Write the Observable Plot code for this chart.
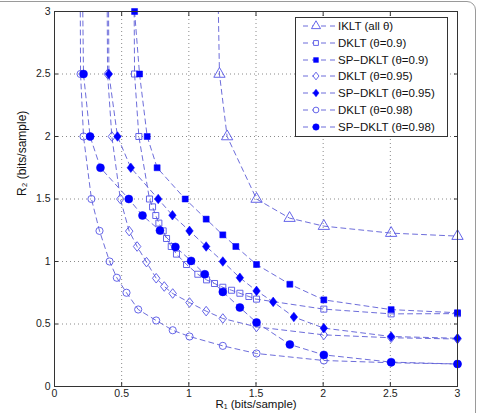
<!DOCTYPE html>
<html><head><meta charset="utf-8">
<script src="https://cdn.jsdelivr.net/npm/d3@7"></script>
<script src="https://cdn.jsdelivr.net/npm/@observablehq/plot@0.6"></script>
<style>
html,body{margin:0;padding:0;background:#fff;}
#wrap{position:relative;width:480px;height:413px;overflow:hidden;font-family:"Liberation Sans",Arial,sans-serif;}
#frame{position:absolute;left:-12px;top:1px;width:488px;height:440px;border:1px solid #9a9a9a;border-radius:9px;box-sizing:border-box;pointer-events:none}
#legend{position:absolute;left:295px;top:17px;width:153px;height:120px;box-sizing:border-box;border:1px solid #333;background:#fff}
#legend .row{position:absolute;left:0;height:16px;width:150px}
#legend svg{position:absolute;left:0;top:0}
#legend span{position:absolute;left:42px;top:0;line-height:16px;font-size:11.5px;color:#111;white-space:nowrap}
</style></head><body>
<div id="wrap"><div id="chart"></div><div id="frame"></div><div id="legend"></div></div>
<script>
// ---- data (R1, R2 in bits/sample), first point of most curves lies above the plotted range ----
const ikltX   = [1.21, 1.228, 1.285, 1.504, 1.75, 2.005, 2.506, 3.0];
const ikltY   = [3.6, 2.5, 2.0, 1.5, 1.347, 1.283, 1.227, 1.203];

const dklt90X = [0.59, 0.596, 0.628, 0.707, 0.73, 0.754, 0.777, 0.809, 0.834, 0.869, 0.908, 0.983, 1.067, 1.132, 1.191, 1.253, 1.318, 1.38, 1.447, 1.504, 2.005, 2.506, 3.0];
const dklt90Y = [3.5, 2.5, 2.0, 1.5, 1.437, 1.368, 1.307, 1.245, 1.184, 1.12, 1.059, 0.976, 0.898, 0.853, 0.824, 0.794, 0.77, 0.746, 0.72, 0.699, 0.619, 0.581, 0.583];

const sp90X   = [0.596, 0.633, 0.69, 0.764, 0.973, 1.129, 1.253, 1.35, 1.504, 1.752, 2.005, 2.506, 3.0];
const sp90Y   = [3.0, 2.5, 2.0, 1.75, 1.5, 1.339, 1.213, 1.12, 0.976, 0.818, 0.693, 0.615, 0.59];

const dklt95X = [0.39, 0.395, 0.427, 0.49, 0.556, 0.615, 0.685, 0.757, 0.817, 0.88, 1.005, 1.129, 1.253, 1.504, 2.005, 2.506, 3.0];
const dklt95Y = [3.5, 2.5, 2.0, 1.5, 1.243, 1.12, 0.995, 0.866, 0.80, 0.744, 0.672, 0.603, 0.544, 0.477, 0.413, 0.39, 0.38];

const sp95X   = [0.40, 0.405, 0.469, 0.568, 0.772, 0.878, 1.005, 1.129, 1.253, 1.38, 1.504, 1.628, 1.782, 2.005, 2.506, 3.0];
const sp95Y   = [3.5, 2.5, 2.0, 1.75, 1.5, 1.37, 1.245, 1.12, 1.0, 0.87, 0.765, 0.677, 0.556, 0.467, 0.40, 0.386];

const dklt98X = [0.19, 0.194, 0.216, 0.275, 0.335, 0.41, 0.464, 0.536, 0.623, 0.757, 0.88, 1.005, 1.253, 1.504, 2.005, 2.506, 3.0];
const dklt98Y = [3.5, 2.5, 2.0, 1.5, 1.245, 1.0, 0.87, 0.75, 0.616, 0.528, 0.45, 0.40, 0.325, 0.264, 0.208, 0.19, 0.18];

const sp98X   = [0.205, 0.216, 0.265, 0.342, 0.553, 0.655, 0.785, 0.90, 1.017, 1.119, 1.253, 1.38, 1.504, 1.752, 2.005, 2.506, 3.0];
const sp98Y   = [3.5, 2.5, 2.0, 1.75, 1.5, 1.368, 1.248, 1.117, 1.005, 0.898, 0.757, 0.632, 0.512, 0.336, 0.253, 0.195, 0.18];

const seriesNames = ["IKLT (all θ)", "DKLT (θ=0.9)", "SP−DKLT (θ=0.9)", "DKLT (θ=0.95)", "SP−DKLT (θ=0.95)", "DKLT (θ=0.98)", "SP−DKLT (θ=0.98)"];
const xTicks = [0, 0.5, 1, 1.5, 2, 2.5, 3];
const yTicks = [0, 0.5, 1, 1.5, 2, 2.5, 3];
const gridTicks = [0.5, 1, 1.5, 2, 2.5];
const xLabel = "R₁ (bits/sample)";
const yLabel = "R₂ (bits/sample)";

// ---- styles ----
const lineColor = "#5c5cd6";
const openColor = "#5555e6";
const fillColor = "#0000ff";
const mDiamond = {draw(ctx, size){const h=Math.sqrt(size)*0.75, w=h*0.78; ctx.moveTo(0,-h); ctx.lineTo(w,0); ctx.lineTo(0,h); ctx.lineTo(-w,0); ctx.closePath();}};
const styles = [
  {symbol:"triangle", filled:false, r:4.2},
  {symbol:"square", filled:false, r:3.4},
  {symbol:"square", filled:true, r:3.4},
  {symbol:mDiamond, filled:false, r:3.6},
  {symbol:mDiamond, filled:true, r:3.6},
  {symbol:"circle", filled:false, r:3.6},
  {symbol:"circle", filled:true, r:4.0}
];
const xs = [ikltX, dklt90X, sp90X, dklt95X, sp95X, dklt98X, sp98X];
const ys = [ikltY, dklt90Y, sp90Y, dklt95Y, sp95Y, dklt98Y, sp98Y];

const series = seriesNames.map((name, k) => ({name, ...styles[k],
  rows: xs[k].map((x, i) => ({series: name, x, y: ys[k][i]}))}));
const allRows = series.flatMap(s => s.rows);
const fmt = d => String(d);

const marks = [
  Plot.gridX(gridTicks, {stroke:"#8a8a8a", strokeOpacity:1, strokeDasharray:"1,3"}),
  Plot.gridY(gridTicks, {stroke:"#8a8a8a", strokeOpacity:1, strokeDasharray:"1,3"}),
  Plot.line(allRows, {x:"x", y:"y", z:"series", stroke:lineColor, strokeWidth:0.9, strokeDasharray:"5,4", clip:true})
];
for (const s of series) {
  marks.push(Plot.dot(s.rows, {x:"x", y:"y", filter: d => d.y <= 3, symbol: s.symbol, r: s.r,
    stroke: s.filled ? fillColor : openColor, fill: s.filled ? fillColor : "none", strokeWidth: s.filled ? 0.5 : 0.9}));
}
marks.push(
  Plot.frame({stroke:"#333", strokeWidth:1}),
  Plot.axisX(xTicks, {anchor:"bottom", tickSize:-4, tickPadding:7, tickFormat:fmt, stroke:"#333", fontSize:10.5}),
  Plot.axisX(xTicks, {anchor:"top", tickSize:-4, tickFormat:() => "", stroke:"#333"}),
  Plot.axisY(yTicks, {anchor:"left", tickSize:-4, tickPadding:8, tickFormat:fmt, stroke:"#333", fontSize:10.5}),
  Plot.axisY(yTicks, {anchor:"right", tickSize:-4, tickFormat:() => "", stroke:"#333"}),
  Plot.text([xLabel], {text: d => d, frameAnchor:"bottom", dy:21, fontSize:11.5, fill:"#111"}),
  Plot.text([yLabel], {text: d => d, frameAnchor:"left", dx:-32, dy:-3, rotate:-90, fontSize:12, fill:"#111"})
);

const chart = Plot.plot({
  width:480, height:413,
  marginLeft:54, marginRight:23, marginTop:11, marginBottom:27,
  x:{domain:[0,3], label:null},
  y:{domain:[0,3], label:null},
  style:{fontFamily:"'Liberation Sans', Arial, sans-serif", fontSize:"11px", color:"#222", background:"#fff"},
  marks
});
document.getElementById("chart").appendChild(chart);

// ---- legend ----
const legend = d3.select("#legend");
series.forEach((s, i) => {
  const row = legend.append("div").attr("class","row").style("top", (i*16.83) + "px");
  const svg = row.append("svg").attr("width",40).attr("height",16);
  svg.append("line").attr("x1",6).attr("x2",40).attr("y1",8).attr("y2",8)
    .attr("stroke",lineColor).attr("stroke-width",0.9).attr("stroke-dasharray","5,4").attr("stroke-dashoffset",-1);
  const sym = typeof s.symbol === "string" ? {triangle:d3.symbolTriangle, square:d3.symbolSquare, circle:d3.symbolCircle}[s.symbol] : s.symbol;
  svg.append("path").attr("transform","translate(20,8)")
    .attr("d", d3.symbol(sym, Math.PI * (s.r*0.8) ** 2)())
    .attr("fill", s.filled ? fillColor : "#fff")
    .attr("stroke", s.filled ? fillColor : openColor)
    .attr("stroke-width", s.filled ? 0.5 : 0.9);
  row.append("span").text(s.name);
});
</script>
</body></html>
